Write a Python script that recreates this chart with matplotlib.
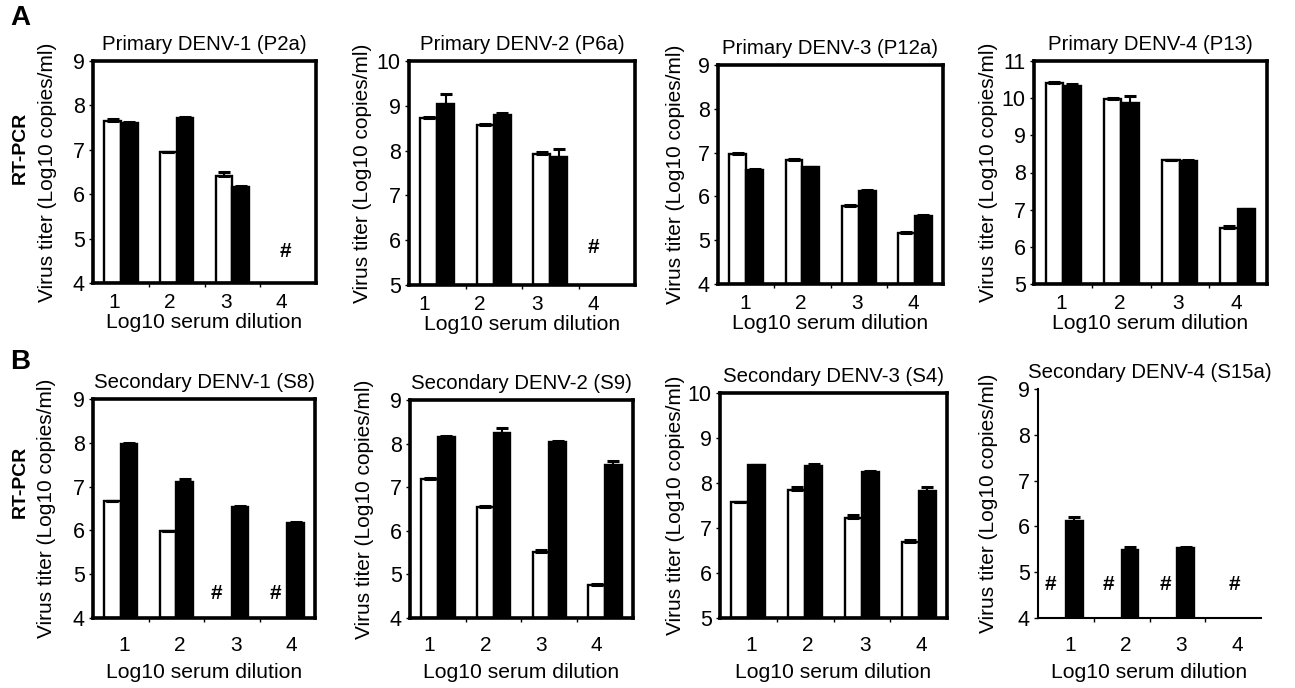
import numpy as np
import matplotlib
matplotlib.use("Agg")
import matplotlib.pyplot as plt

plt.rcParams['font.family'] = ['Liberation Sans', 'DejaVu Sans']

nan = np.nan

# log10 serum dilution groups
dilutions = [1, 2, 3, 4]

titles = [
    "Primary DENV-1 (P2a)", "Primary DENV-2 (P6a)",
    "Primary DENV-3 (P12a)", "Primary DENV-4 (P13)",
    "Secondary DENV-1 (S8)", "Secondary DENV-2 (S9)",
    "Secondary DENV-3 (S4)", "Secondary DENV-4 (S15a)",
]
ylims = [(4, 9), (5, 10), (4, 9), (5, 11), (4, 9), (4, 9), (5, 10), (4, 9)]

# white bars (mean, error)
white_vals = [
    [7.64, 6.94, 6.40, nan],
    [8.73, 8.57, 7.92, nan],
    [6.96, 6.83, 5.77, 5.16],
    [10.40, 9.99, 8.34, 6.52],
    [6.67, 5.98, nan, nan],
    [7.18, 6.55, 5.52, 4.75],
    [7.58, 7.85, 7.22, 6.70],
    [nan, nan, nan, nan],
]
white_errs = [
    [0.05, 0.0, 0.09, 0],
    [0.02, 0.02, 0.04, 0],
    [0.02, 0.02, 0.03, 0.02],
    [0.03, 0.02, 0.0, 0.03],
    [0.0, 0.0, 0, 0],
    [0.02, 0.02, 0.04, 0.02],
    [0.0, 0.07, 0.07, 0.04],
    [0, 0, 0, 0],
]

# black bars (mean, error)
black_vals = [
    [7.60, 7.71, 6.16, nan],
    [9.04, 8.79, 7.86, nan],
    [6.61, 6.66, 6.13, 5.56],
    [10.33, 9.88, 8.32, 7.01],
    [7.97, 7.11, 6.54, 6.18],
    [8.16, 8.25, 8.04, 7.51],
    [8.39, 8.37, 8.24, 7.82],
    [6.12, 5.48, 5.52, nan],
]
black_errs = [
    [0.02, 0.02, 0.02, 0],
    [0.22, 0.04, 0.17, 0],
    [0.02, 0.02, 0.02, 0.02],
    [0.05, 0.19, 0.02, 0.02],
    [0.02, 0.06, 0.02, 0.02],
    [0.02, 0.10, 0.02, 0.10],
    [0.02, 0.06, 0.02, 0.10],
    [0.08, 0.07, 0.03, 0],
]

# "#" = not detected: (x, y) per panel
hash_marks = [
    [(3.96, 4.70)],
    [(3.76, 5.83)],
    [],
    [],
    [(2.73, 4.57), (3.78, 4.57)],
    [],
    [],
    [(0.72, 4.73), (1.77, 4.73), (2.78, 4.73), (4.03, 4.73)],
]

# layout in pixels: left, right, top, bottom
W, H = 1295, 688
boxes = [
    (93, 316, 61, 283), (409, 635, 61, 285), (718, 943, 65, 284), (1034, 1267, 61, 284),
    (93, 315, 399, 618), (410, 633, 400, 618), (720, 947, 393, 618), (1038, 1261, 389, 618),
]
label_shift = [-0.12, -0.24, -0.02, -0.03, 0.07, -0.15, 0.05, 0.07]
ylabel_pad = [11, 3, 9, 3, 12, 11, 2, 14]

fig = plt.figure(figsize=(W / 100, H / 100), dpi=100)
bw = 0.3

for i in range(8):
    l, r, t, b = boxes[i]
    ax = fig.add_axes([l / W, 1 - b / H, (r - l) / W, (b - t) / H])
    ylo, yhi = ylims[i]
    x = np.array(dilutions, dtype=float)

    wv = np.array(white_vals[i])
    bv = np.array(black_vals[i])
    we = np.array(white_errs[i])
    be = np.array(black_errs[i])

    m = ~np.isnan(wv)
    ax.bar(x[m] - bw / 2, wv[m] - ylo, bw, bottom=ylo, color='white',
           edgecolor='black', linewidth=1.7, zorder=2)
    ax.errorbar(x[m] - bw / 2, wv[m], yerr=[np.zeros(m.sum()), we[m]], fmt='none',
                ecolor='black', elinewidth=1.5, capsize=4.5, capthick=2.2, zorder=3)
    m = ~np.isnan(bv)
    ax.bar(x[m] + bw / 2, bv[m] - ylo, bw, bottom=ylo, color='black',
           edgecolor='black', linewidth=1.7, zorder=2)
    ax.errorbar(x[m] + bw / 2, bv[m], yerr=[np.zeros(m.sum()), be[m]], fmt='none',
                ecolor='black', elinewidth=1.5, capsize=4.5, capthick=2.2, zorder=3)

    for hx, hy in hash_marks[i]:
        ax.text(hx, hy, '#', ha='center', va='center', fontsize=15, fontweight='bold')

    ax.set_xlim(0.5, 4.5)
    ax.set_ylim(ylo, yhi)
    ax.set_yticks(range(ylo, yhi + 1))
    ax.set_xticks(x + label_shift[i])
    ax.set_xticklabels([str(d) for d in dilutions])
    ax.set_xticks([1.5, 2.5, 3.5], minor=True)
    ax.tick_params(axis='x', which='major', length=0, labelsize=15,
                   pad=7 if i < 4 else 13)
    ax.tick_params(axis='x', which='minor', length=3, width=1)
    ax.tick_params(axis='y', length=3, width=1, labelsize=15.5, pad=3)

    ax.set_title(titles[i], fontsize=14.7, pad=8)
    ax.set_xlabel('Log10 serum dilution', fontsize=15.2, labelpad=1 if i < 4 else 6)
    ax.set_ylabel('Virus titer (Log10 copies/ml)', fontsize=15, labelpad=ylabel_pad[i])

    if i == 7:
        ax.spines['top'].set_visible(False)
        ax.spines['right'].set_visible(False)
        for s in ('left', 'bottom'):
            ax.spines[s].set_linewidth(1.5)
    else:
        for s in ax.spines.values():
            s.set_linewidth(2.6)

fig.text(10 / W, 1 - 18 / H, 'A', fontsize=20, fontweight='bold', va='center', ha='left')
fig.text(10 / W, 1 - 362 / H, 'B', fontsize=20, fontweight='bold', va='center', ha='left')
fig.text(20 / W, 1 - 148 / H, 'RT-PCR', fontsize=14, fontweight='bold', rotation=90,
         va='center', ha='center')
fig.text(20 / W, 1 - 482 / H, 'RT-PCR', fontsize=14, fontweight='bold', rotation=90,
         va='center', ha='center')

fig.savefig('out.png', dpi=100)
